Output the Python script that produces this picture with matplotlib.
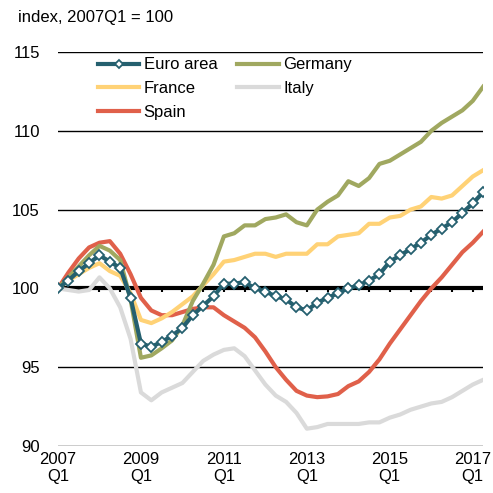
import numpy as np
import matplotlib.pyplot as plt

plt.rcParams['font.family'] = ['Liberation Sans', 'DejaVu Sans']

# quarterly index, 2007Q1 .. 2017Q2
quarters = np.arange(42)
euro_area = [100.0, 100.5, 101.1, 101.6, 102.1, 101.7, 101.3, 99.4, 96.5, 96.3,
             96.6, 97.0, 97.5, 98.3, 98.9, 99.5, 100.3, 100.3, 100.4, 100.0,
             99.8, 99.5, 99.3, 98.8, 98.6, 99.1, 99.4, 99.7, 100.0, 100.2,
             100.5, 100.9, 101.7, 102.1, 102.5, 102.9, 103.4, 103.8, 104.2, 104.8,
             105.4, 106.1]
germany = [100.0, 100.7, 101.4, 102.1, 102.7, 102.4, 101.8, 99.3, 95.6, 95.75,
           96.2, 96.7, 97.65, 99.2, 100.3, 101.5, 103.3, 103.5, 104.0, 104.0,
           104.4, 104.5, 104.7, 104.2, 104.0, 105.0, 105.5, 105.9, 106.8, 106.5,
           107.0, 107.9, 108.1, 108.5, 108.9, 109.3, 110.0, 110.5, 110.9, 111.3,
           111.9, 112.8]
france = [100.0, 100.5, 100.9, 101.3, 101.6, 101.1, 100.8, 99.7, 98.0, 97.8,
          98.1, 98.5, 99.0, 99.5, 100.2, 100.9, 101.7, 101.8, 102.0, 102.2,
          102.2, 102.0, 102.2, 102.2, 102.2, 102.8, 102.8, 103.3, 103.4, 103.5,
          104.1, 104.1, 104.5, 104.6, 105.0, 105.2, 105.8, 105.7, 105.9, 106.5,
          107.1, 107.5]
italy = [100.0, 99.9, 99.8, 99.9, 100.7, 100.0, 98.8, 96.8, 93.4, 92.9,
         93.4, 93.7, 94.0, 94.7, 95.4, 95.8, 96.1, 96.2, 95.7, 94.8,
         93.9, 93.2, 92.8, 92.1, 91.1, 91.2, 91.4, 91.4, 91.4, 91.4,
         91.5, 91.5, 91.8, 92.0, 92.3, 92.5, 92.7, 92.8, 93.1, 93.5,
         93.9, 94.2]
spain = [100.0, 101.0, 101.9, 102.6, 102.9, 103.0, 102.2, 100.9, 99.4, 98.6,
         98.3, 98.3, 98.5, 98.7, 98.8, 98.8, 98.3, 97.9, 97.5, 96.9,
         96.0, 95.0, 94.2, 93.5, 93.2, 93.1, 93.15, 93.3, 93.8, 94.1,
         94.7, 95.5, 96.5, 97.4, 98.3, 99.2, 100.0, 100.7, 101.5, 102.3,
         102.9, 103.6]

xtick_pos = [0, 8, 16, 24, 32, 40]
xtick_labels = ['2007\nQ1', '2009\nQ1', '2011\nQ1', '2013\nQ1', '2015\nQ1', '2017\nQ1']
yticks = [90, 95, 100, 105, 110, 115]

fig = plt.figure(figsize=(4.93, 4.93), dpi=100)
ax = fig.add_axes([0.1176, 0.0953, 0.8624, 0.7992])

for y in yticks:
    if y != 100:
        ax.axhline(y, color='black', lw=1.0, zorder=1)
ax.axhline(100, color='black', lw=3.0, zorder=1)
ax.vlines(quarters[::2], 99.75, 100, color='black', lw=1.5, zorder=1)

ax.plot(quarters, italy, color='#DADADA', lw=3, zorder=2, label='Italy')
ax.plot(quarters, spain, color='#E0604A', lw=3, zorder=3, label='Spain')
ax.plot(quarters, france, color='#FFD276', lw=3, zorder=3, label='France')
ax.plot(quarters, germany, color='#A0A860', lw=3, zorder=3, label='Germany')
ax.plot(quarters, euro_area, color='#25606F', lw=3, zorder=4, marker='D',
        markersize=5.5, markerfacecolor='white', markeredgecolor='#25606F',
        markeredgewidth=1.3, label='Euro area')

ax.set_xlim(0, 41)
ax.set_ylim(90, 115)
ax.set_yticks(yticks)
ax.set_xticks(xtick_pos)
ax.set_xticklabels(xtick_labels)
ax.tick_params(axis='both', length=0, labelsize=12)
ax.tick_params(axis='y', pad=13)
ax.tick_params(axis='x', pad=4)
for s in ax.spines.values():
    s.set_visible(False)

h, l = ax.get_legend_handles_labels()
order = [l.index(n) for n in ['Euro area', 'France', 'Spain', 'Germany', 'Italy']]
leg = ax.legend([h[i] for i in order], [l[i] for i in order], ncol=2, loc='upper left',
                bbox_to_anchor=(0.078, 1.003), frameon=False, fontsize=12,
                handlelength=2.5, handletextpad=0.25, labelspacing=0.53,
                columnspacing=1.2, borderaxespad=0, numpoints=1)
for lh in leg.legend_handles:
    lh.set_markersize(4)

fig.text(0.036, 0.965, 'index, 2007Q1 = 100', fontsize=12, va='center', ha='left')

fig.savefig('out.png', dpi=100)
